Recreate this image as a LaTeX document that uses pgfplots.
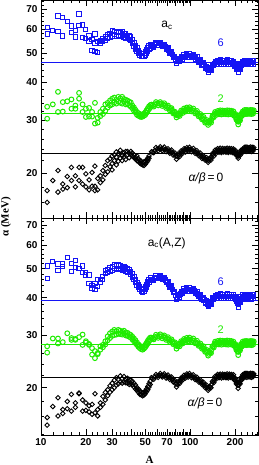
\documentclass[border=0pt]{standalone}
\usepackage{fontspec}
\setmainfont{Liberation Serif}
\setsansfont{Liberation Sans}
\usepackage{pgfplots}
\pgfplotsset{compat=1.18}
\usepackage{pgfplotstable}
\definecolor{cblue}{RGB}{20,20,245}
\definecolor{cgreen}{RGB}{30,235,0}

% heavier nuclei (A >= 55), all six series
\pgfplotstableread{
A kT gT bT kB gB bB
55 23.55 33.75 52.7 21.6 29.4 46.1
57 23.35 33.25 52.3 21.35 29.0 45.6
59 24.3 34.4 54.3 22.15 30.05 47.25
61 23.7 33.55 53.05 21.65 29.35 46.3
63 24.45 34.4 54.35 22.3 30.15 47.5
65 23.75 33.4 52.65 21.7 29.25 46.05
67 24.4 34.1 53.55 22.25 29.9 46.75
69 23.55 32.9 51.45 21.55 28.9 44.8
71 24.1 33.5 52.1 22.05 29.5 45.2
73 23.3 32.3 49.9 21.3 28.45 43.3
75 23.85 32.85 50.5 21.7 29.0 43.7
77 22.95 31.55 48.2 20.9 27.95 41.65
79 23.35 31.95 48.7 21.15 28.35 41.8
81 22.25 30.6 46.3 20.1 27.0 39.4
83 23.15 31.5 47.95 20.95 28.0 40.95
85 22.7 30.95 46.9 20.65 27.5 40.2
87 23.7 32.25 48.8 21.55 28.6 41.95
89 23.25 31.65 47.75 21.2 28.1 41.2
91 24.1 32.75 49.45 22.0 29.1 42.75
93 23.5 32.0 48.25 21.55 28.45 41.8
95 24.3 33.0 49.8 22.25 29.35 43.15
97 23.65 32.15 48.5 21.7 28.6 42.0
99 24.35 33.05 49.9 22.3 29.4 43.2
102 23.55 32.05 48.4 21.6 28.5 41.9
105 24.15 32.75 49.6 22.1 29.2 42.9
108 23.25 31.55 47.8 21.3 28.15 41.3
111 23.75 32.15 48.7 21.7 28.7 42.0
114 22.85 30.85 46.7 20.9 27.6 40.3
117 23.3 31.4 47.55 21.25 28.1 41.0
120 22.35 30.15 45.6 20.5 27.0 39.4
123 22.8 30.7 46.4 20.85 27.5 40.1
126 22.1 29.4 44.6 20.0 26.35 38.4
129 22.5 30.0 45.2 20.4 26.75 39.0
132 21.7 28.9 43.3 19.6 25.6 37.25
135 22.4 29.8 44.4 20.2 26.35 38.35
138 22.1 29.4 43.9 20.0 26.1 37.9
141 23.2 30.85 45.95 21.0 27.5 39.9
144 22.75 30.65 45.4 20.8 27.25 39.4
147 23.85 31.9 46.9 21.8 28.5 40.7
150 23.3 31.2 45.9 21.4 27.9 39.8
153 24.1 32.15 47.25 22.15 28.65 40.95
156 23.45 31.35 45.9 21.6 27.9 39.8
159 24.2 32.3 47.4 22.2 28.75 41.1
162 23.4 31.3 45.8 21.55 27.85 39.7
165 24.15 32.25 47.3 22.2 28.7 41.0
168 23.5 31.4 46.0 21.65 27.95 39.9
171 24.1 32.2 47.2 22.15 28.65 40.9
174 23.45 31.35 45.9 21.6 27.9 39.8
177 24.2 32.3 47.4 22.25 28.75 41.1
180 23.4 31.3 45.8 21.55 27.85 39.75
183 24.15 32.25 47.3 22.2 28.7 41.0
186 23.5 31.4 46.0 21.65 27.95 39.85
189 24.1 32.2 47.2 22.15 28.65 40.9
192 23.4 31.25 45.8 21.55 27.8 39.8
195 24.05 32.05 47.0 22.1 28.5 40.9
198 23.3 30.95 45.3 21.2 27.55 39.7
201 23.8 31.4 46.1 21.5 27.95 40.45
204 22.9 30.1 44.3 20.6 26.75 38.75
207 23.2 30.4 44.9 20.85 27.05 39.25
210 22.4 29.0 43.3 19.9 25.7 37.2
213 23.2 30.2 44.9 20.85 27.0 39.05
216 22.9 29.9 44.3 20.6 26.65 38.45
219 23.8 31.4 46.2 21.6 27.95 40.2
222 23.4 30.95 45.4 21.25 27.45 39.35
225 24.05 32.0 47.0 22.1 28.5 40.8
228 23.55 31.3 45.8 21.6 27.75 39.65
231 24.35 32.35 47.2 22.3 28.6 40.9
234 23.65 31.45 45.8 21.7 27.8 39.7
237 24.4 32.4 47.3 22.35 28.65 41.0
240 23.6 31.4 45.7 21.65 27.75 39.6
243 24.35 32.35 47.2 22.3 28.6 40.9
246 23.7 31.5 45.9 21.75 27.85 39.8
249 24.3 32.3 47.1 22.25 28.55 40.8
252 23.65 31.45 45.8 21.7 27.8 39.7
255 24.4 32.4 47.3 22.35 28.65 41.0
258 23.6 31.4 45.7 21.65 27.75 39.6
261 24.35 32.35 47.2 22.3 28.6 40.9
264 23.7 31.5 45.9 21.75 27.85 39.8
267 24.3 32.3 47.1 22.25 28.55 40.8
}\band

% further heavier nuclei, in between
\pgfplotstableread{
A kT gT bT kB gB bB
56 23.45 33.5 52.5 21.5 29.2 45.85
58 23.8 33.8 53.3 21.75 29.5 46.4
60 24.0 34.0 53.7 21.9 29.7 46.8
62 24.1 34.0 53.7 22.0 29.75 46.9
64 24.1 33.9 53.5 22.0 29.7 46.8
66 24.1 33.75 53.1 22.0 29.6 46.4
68 24.0 33.5 52.5 21.9 29.4 45.8
70 23.8 33.2 51.8 21.8 29.2 45.0
72 23.7 32.9 51.0 21.7 29.0 44.25
74 23.6 32.6 50.2 21.5 28.7 43.5
76 23.4 32.2 49.35 21.3 28.5 42.7
78 23.15 31.75 48.45 21.0 28.15 41.7
80 22.8 31.3 47.5 20.6 27.7 40.6
82 22.7 31.05 47.1 20.5 27.5 40.2
84 22.9 31.2 47.4 20.8 27.75 40.6
86 23.2 31.6 47.85 21.1 28.05 41.1
88 23.5 31.95 48.3 21.4 28.35 41.6
90 23.7 32.2 48.6 21.6 28.6 42.0
92 23.8 32.4 48.85 21.8 28.8 42.3
94 23.9 32.5 49.0 21.9 28.9 42.5
96 24.0 32.6 49.15 22.0 29.0 42.6
98 24.0 32.6 49.2 22.0 29.0 42.6
100 23.95 32.55 49.15 21.95 28.95 42.55
103 23.85 32.4 49.0 21.85 28.85 42.4
106 23.7 32.15 48.7 21.7 28.7 42.1
109 23.5 31.85 48.25 21.5 28.4 41.65
112 23.3 31.5 47.7 21.3 28.15 41.15
115 23.1 31.1 47.1 21.1 27.85 40.65
118 22.8 30.8 46.6 20.9 27.55 40.2
121 22.6 30.4 46.0 20.7 27.25 39.75
124 22.45 30.05 45.5 20.4 26.9 39.25
127 22.3 29.7 44.9 20.2 26.55 38.7
130 22.1 29.45 44.25 20.0 26.2 38.1
133 22.05 29.35 43.85 19.9 25.95 37.8
136 22.25 29.6 44.15 20.1 26.2 38.1
139 22.65 30.1 44.9 20.5 26.8 38.9
142 23.0 30.75 45.7 20.9 27.4 39.65
145 23.3 31.3 46.15 21.3 27.9 40.05
148 23.6 31.55 46.4 21.6 28.2 40.25
151 23.7 31.7 46.6 21.8 28.3 40.4
154 23.8 31.8 46.6 21.9 28.3 40.4
157 23.85 31.85 46.7 21.9 28.35 40.45
160 23.8 31.75 46.55 21.85 28.25 40.35
163 23.75 31.8 46.6 21.9 28.3 40.4
166 23.85 31.85 46.65 21.95 28.35 40.45
169 23.8 31.8 46.6 21.9 28.3 40.4
172 23.75 31.75 46.5 21.85 28.25 40.3
175 23.85 31.85 46.7 21.95 28.35 40.45
178 23.8 31.8 46.6 21.9 28.3 40.4
181 23.8 31.75 46.55 21.85 28.25 40.35
184 23.85 31.85 46.65 21.95 28.35 40.45
187 23.8 31.8 46.6 21.9 28.3 40.4
190 23.75 31.75 46.5 21.85 28.25 40.3
193 23.75 31.65 46.4 21.85 28.15 40.35
196 23.7 31.5 46.15 21.65 28.0 40.3
199 23.55 31.2 45.7 21.35 27.75 40.1
202 23.35 30.75 45.2 21.05 27.35 39.6
205 23.05 30.25 44.6 20.7 26.9 39.0
208 22.8 29.7 44.1 20.4 26.4 38.2
211 22.8 29.6 44.1 20.4 26.35 38.1
214 23.05 30.05 44.6 20.7 26.8 38.75
217 23.35 30.65 45.25 21.1 27.3 39.3
220 23.6 31.2 45.8 21.4 27.7 39.8
223 23.7 31.5 46.2 21.7 28.0 40.1
226 23.8 31.65 46.4 21.85 28.1 40.2
229 23.95 31.85 46.5 22.0 28.2 40.3
232 24.0 31.9 46.5 22.0 28.2 40.3
235 23.95 31.85 46.45 21.95 28.15 40.25
238 24.0 31.9 46.55 22.05 28.25 40.35
241 23.95 31.85 46.5 22.0 28.2 40.3
244 24.0 31.9 46.5 22.0 28.2 40.3
247 24.0 31.9 46.55 22.05 28.25 40.35
250 23.95 31.85 46.45 21.95 28.15 40.25
253 24.0 31.9 46.5 22.0 28.2 40.3
256 24.0 31.9 46.5 22.0 28.2 40.3
259 23.95 31.85 46.5 22.0 28.2 40.3
262 24.0 31.9 46.55 22.05 28.25 40.35
265 24.0 31.9 46.5 22.0 28.2 40.3
}\bandmid

% light nuclei, top panel
\pgfplotstableread{
A y
11 60.7
11 57.8
12 59.3
13 66.4
13 58.9
14 65.7
14 57.0
15 63.6
16 58.4
16 61.5
17 59.3
17 56.5
18 67.4
18 61.9
19 56.4
19 62.0
20 59.9
20 55.9
21 54.5
21 57.0
22 50.9
22 55.5
23 50.6
23 57.8
23 54.0
24 50.1
24 54.5
25 55.0
25 53.8
26 54.5
26 55.8
27 56.5
27 55.0
28 57.5
28 55.8
29 58.2
29 56.5
30 59.3
30 57.0
31 59.0
31 57.5
32 58.4
32 56.8
33 59.0
33 57.2
34 58.5
34 56.9
35 58.8
35 57.4
36 58.0
36 56.5
37 57.8
37 56.0
38 57.3
38 55.8
39 57.0
39 55.4
40 56.8
40 55.0
41 55.5
41 54.0
42 54.3
42 52.8
43 53.0
43 51.6
44 52.0
44 50.5
45 51.0
45 49.8
46 50.3
46 49.2
47 49.8
47 48.8
48 49.7
48 48.6
49 49.9
49 48.9
50 50.5
50 49.3
51 51.2
51 50.0
52 52.0
52 50.8
53 52.8
53 51.5
54 53.4
54 52.0
}\bTlow

\pgfplotstableread{
A y
11 30.3
11 33.2
12 33.8
13 37.2
13 31.9
14 34.4
14 32.0
15 34.6
16 35.1
16 32.7
17 32.7
17 33.5
18 36.9
18 35.3
19 31.9
19 33.8
20 30.7
20 32.7
21 32.9
21 30.8
22 31.9
22 30.8
23 34.2
23 29.2
24 29.4
24 30.5
25 31.9
25 30.9
26 32.7
26 31.4
27 33.8
27 32.2
28 34.2
28 33.0
29 34.8
29 33.5
30 35.3
30 33.8
31 35.6
31 34.3
32 35.0
32 34.0
33 35.8
33 34.5
34 35.4
34 34.2
35 35.8
35 34.0
36 35.2
36 34.5
37 35.0
37 33.8
38 34.8
38 34.0
39 34.5
39 33.6
40 34.3
40 33.2
41 33.5
41 32.8
42 33.0
42 32.2
43 32.4
43 31.8
44 31.9
44 31.2
45 31.6
45 31.0
46 31.4
46 30.8
47 31.2
47 30.7
48 31.3
48 30.8
49 31.5
49 31.0
50 31.8
50 31.2
51 32.3
51 31.7
52 32.8
52 32.2
53 33.3
53 32.6
54 33.6
54 33.0
}\gTlow

\pgfplotstableread{
A y
11 16.0
11 17.5
12 18.9
13 17.3
13 20.4
14 17.7
14 18.4
15 19.5
15 17.9
16 20.9
16 18.9
17 18.0
17 19.6
18 20.9
18 18.9
19 20.9
19 18.4
20 19.9
20 18.0
21 19.0
21 17.6
22 18.1
22 20.1
23 21.1
23 18.1
23 17.5
24 19.2
24 17.6
25 19.6
25 18.6
26 20.4
26 19.0
27 21.2
27 19.8
28 22.0
28 20.2
29 21.0
29 22.3
30 21.5
30 22.8
30 20.5
31 22.0
31 23.0
32 21.3
32 22.6
32 23.5
33 21.9
33 23.2
34 22.4
34 23.8
35 22.8
35 23.0
35 22.0
36 23.4
36 22.6
37 23.6
37 22.2
38 23.0
38 23.6
39 23.3
39 22.5
40 23.0
40 23.6
41 22.8
41 23.3
42 22.5
42 23.0
43 22.3
43 22.6
44 22.0
44 22.8
45 21.9
45 22.3
46 21.6
46 22.1
47 21.4
47 21.9
48 21.3
48 21.6
49 21.2
49 21.8
50 21.4
50 21.9
51 21.7
51 22.1
52 22.0
52 22.4
53 22.4
53 22.8
}\kTlow

% light nuclei, bottom panel
\pgfplotstableread{
A y
11 51.0
11 46.4
12 52.8
13 49.3
13 51.8
14 51.8
14 50.8
15 54.6
16 48.9
16 52.0
17 53.2
17 50.5
18 50.1
19 51.0
19 48.5
20 48.5
20 47.6
21 47.6
21 44.5
22 43.8
22 43.0
23 42.5
23 44.7
24 46.1
24 43.6
25 46.1
25 45.0
26 47.0
26 46.0
27 49.3
27 48.0
28 49.5
28 48.4
29 50.3
29 49.0
30 50.8
30 49.4
31 51.5
31 50.0
32 51.0
32 49.6
33 51.5
33 50.1
34 51.0
34 49.7
35 50.6
35 49.3
36 50.9
36 49.5
37 50.3
37 49.0
38 50.0
38 48.7
39 49.6
39 48.4
40 49.0
40 47.8
41 48.0
41 46.9
42 47.0
42 46.0
43 46.0
43 45.0
44 45.0
44 44.0
45 44.2
45 43.2
46 43.5
46 42.6
47 42.9
47 42.0
48 42.6
48 41.7
49 42.8
49 41.9
50 43.5
50 42.5
51 44.3
51 43.3
52 45.2
52 44.2
53 46.0
53 45.0
54 46.5
54 45.5
}\bBlow

\pgfplotstableread{
A y
11 27.5
11 26.2
12 29.2
13 29.2
13 28.1
14 28.4
15 30.4
16 28.9
16 29.3
17 28.9
17 29.1
18 29.5
19 30.1
19 27.8
20 28.3
20 28.6
21 27.8
21 28.0
22 27.1
22 25.8
23 25.1
23 26.5
24 26.1
24 25.9
25 27.5
25 26.8
26 27.8
26 27.3
27 28.6
27 27.9
28 29.7
28 28.8
29 30.4
29 29.3
30 30.8
30 29.8
31 31.2
31 30.0
32 30.9
32 30.1
33 31.2
33 30.3
34 31.0
34 30.2
35 30.8
35 30.1
36 31.0
36 30.3
37 30.6
37 29.9
38 30.5
38 29.8
39 30.2
39 29.6
40 30.0
40 29.4
41 29.6
41 29.0
42 29.2
42 28.6
43 28.8
43 28.2
44 28.3
44 27.8
45 27.9
45 27.4
46 27.6
46 27.1
47 27.4
47 26.9
48 27.3
48 26.8
49 27.5
49 27.0
50 27.8
50 27.3
51 28.2
51 27.7
52 28.7
52 28.1
53 29.1
53 28.6
54 29.4
54 28.9
}\gBlow

\pgfplotstableread{
A y
11 15.9
11 15.0
12 17.3
13 18.5
13 16.1
14 16.9
14 16.4
15 18.0
15 17.0
16 19.0
16 16.7
17 17.8
17 17.2
18 19.1
18 19.2
19 16.7
19 18.2
20 17.8
20 16.8
21 17.4
21 16.6
22 17.6
22 16.3
23 19.1
23 16.5
24 16.1
24 16.9
25 17.8
25 17.2
26 18.7
26 17.6
27 19.3
27 18.2
28 19.7
28 18.8
29 20.3
29 19.3
30 20.7
30 19.7
31 21.2
31 20.0
32 21.6
32 20.4
33 21.3
33 20.6
34 21.9
34 20.9
35 21.5
35 20.7
36 21.8
36 20.9
37 21.4
37 20.8
38 21.5
38 20.7
39 21.3
39 20.5
40 21.2
40 20.6
41 21.0
41 20.4
42 20.7
42 20.1
43 20.4
43 19.8
44 20.0
44 19.6
45 19.8
45 19.3
46 19.5
46 19.0
47 19.3
47 18.9
48 19.2
48 18.8
49 19.3
49 18.9
50 19.5
50 19.1
51 19.8
51 19.4
52 20.2
52 19.7
53 20.6
53 20.1
54 21.0
54 20.5
}\kBlow

\pgfplotsset{
  panel/.style={
    scale only axis, width=217pt,
    xmin=10, xmax=285,
    xtick={10,20,30,40,50,60,70,80,90,100,200},
    minor xtick={12,14,...,98,120,140,...,280},
    ytick={20,30,40,50,60,70},
    yticklabels={20,30,40,50,60,70},
    minor ytick={14,16,...,74},
    major tick length=6pt, minor tick length=3pt,
    tick style={black, line width=0.5pt},
    axis line style={line width=0.8pt},
    tick label style={font=\fontsize{10}{12}\selectfont\sffamily\bfseries},
    /pgf/number format/assume math mode=true,
  },
  bsq/.style={only marks, mark=square, mark size=2.1pt, color=cblue, mark options={line width=1pt}},
  gci/.style={only marks, mark=o, mark size=2.4pt, color=cgreen, mark options={line width=1pt}},
  kdi/.style={only marks, mark=square, mark size=1.6pt, color=black, mark options={rotate=45, line width=0.9pt}},
}

\begin{document}
\begin{tikzpicture}
% top panel
\begin{loglogaxis}[panel, at={(0,217pt)}, anchor=south west, height=218pt,
  ymin=14.2, ymax=75, xticklabels={}]
\addplot[draw=cblue, line width=0.8pt, mark=none] coordinates {(10,46.4) (285,46.4)};
\addplot[draw=cgreen, line width=0.8pt, mark=none] coordinates {(10,31.5) (285,31.5)};
\addplot[draw=black, line width=0.8pt, mark=none] coordinates {(10,23.2) (285,23.2)};
\addplot[bsq] table[x=A,y=y] {\bTlow};
\addplot[bsq] table[x=A,y=bT] {\band};
\addplot[bsq] table[x=A,y=bT] {\bandmid};
\addplot[gci] table[x=A,y=y] {\gTlow};
\addplot[gci] table[x=A,y=gT] {\band};
\addplot[gci] table[x=A,y=gT] {\bandmid};
\addplot[kdi] table[x=A,y=y] {\kTlow};
\addplot[kdi] table[x=A,y=kT] {\band};
\addplot[kdi] table[x=A,y=kT] {\bandmid};
\end{loglogaxis}
% bottom panel
\begin{loglogaxis}[panel, at={(0,0)}, anchor=south west, height=217pt,
  ymin=13.9, ymax=73.8,
  xticklabels={10,20,30,,50,,70,,,100,200}]
\addplot[draw=cblue, line width=0.8pt, mark=none] coordinates {(10,39.0) (285,39.0)};
\addplot[draw=cgreen, line width=0.8pt, mark=none] coordinates {(10,27.8) (285,27.8)};
\addplot[draw=black, line width=0.8pt, mark=none] coordinates {(10,21.6) (285,21.6)};
\addplot[bsq] table[x=A,y=y] {\bBlow};
\addplot[bsq] table[x=A,y=bB] {\band};
\addplot[bsq] table[x=A,y=bB] {\bandmid};
\addplot[gci] table[x=A,y=y] {\gBlow};
\addplot[gci] table[x=A,y=gB] {\band};
\addplot[gci] table[x=A,y=gB] {\bandmid};
\addplot[kdi] table[x=A,y=y] {\kBlow};
\addplot[kdi] table[x=A,y=kB] {\band};
\addplot[kdi] table[x=A,y=kB] {\bandmid};
\end{loglogaxis}
% labels
\node[rotate=90, font=\fontsize{11}{13}\selectfont\bfseries] at (-35pt,218pt) {α (MeV)};
\node[font=\fontsize{11}{13}\selectfont\bfseries] at (108.5pt,-25pt) {A};
\node[font=\fontsize{12}{14}\selectfont\sffamily] at (126pt,410pt) {a\textsubscript{c}};
\node[font=\fontsize{11}{13}\selectfont\sffamily, text=cblue] at (179.7pt,392.3pt) {6};
\node[font=\fontsize{11}{13}\selectfont\sffamily, text=cgreen] at (179.7pt,336pt) {2};
\node[font=\fontsize{12}{14}\selectfont\sffamily] at (165pt,257pt) {\itshape α/β\upshape\,=\,0};
\node[font=\fontsize{12}{14}\selectfont\sffamily] at (125.7pt,192pt) {a\textsubscript{c}(A,Z)};
\node[font=\fontsize{11}{13}\selectfont\sffamily, text=cblue] at (179.7pt,153pt) {6};
\node[font=\fontsize{11}{13}\selectfont\sffamily, text=cgreen] at (179.7pt,105pt) {2};
\node[font=\fontsize{12}{14}\selectfont\sffamily] at (164pt,32pt) {\itshape α/β\upshape\,=\,0};
\pgfresetboundingbox
\path[use as bounding box] (-41pt,-30pt) rectangle (218pt,435pt);
\end{tikzpicture}
\end{document}
